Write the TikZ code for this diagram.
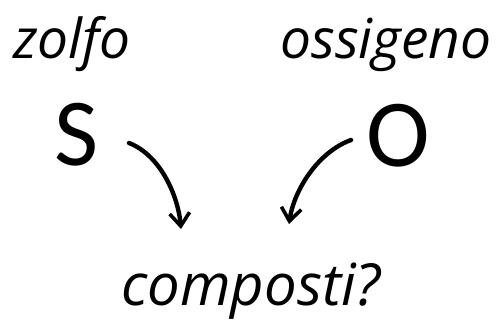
\documentclass[tikz,border=0pt]{standalone}
\usepackage{fontspec}
\setmainfont{Open Sans}
\newfontfamily\calfont{Carlito}
\usetikzlibrary{arrows.meta}
\begin{document}
\begin{tikzpicture}[x=1pt,y=-1pt,
  hand/.style={font=\itshape\fontsize{55}{55}\selectfont, inner sep=0pt, anchor=base},
  elem/.style={font=\calfont\fontsize{96}{96}\selectfont, inner sep=0pt, anchor=base},
  harrow/.style={line width=4.4pt, line cap=round, -{Straight Barb[length=13pt,width=20pt,line width=3.6pt]}}]
\useasboundingbox (0,0) rectangle (497,329);
\node[hand] (zolfo) at (72,58) {zolfo};
\node[hand] (oss) at (386,58) {ossigeno};
\node[elem] (S) at (77,165) {S};
\node[elem] (O) at (398,166) {O};
\node[hand,font=\itshape\fontsize{58}{58}\selectfont] (comp) at (251,305) {composti?};
\coordinate (a1) at (129,143);
\coordinate (a2) at (181,229);
\coordinate (b1) at (351,140);
\coordinate (b2) at (289,224);
\draw[harrow] (a1) .. controls (160,155) and (178,195) .. (a2);
\draw[harrow] (b1) .. controls (318,152) and (294,190) .. (b2);
\end{tikzpicture}
\end{document}
